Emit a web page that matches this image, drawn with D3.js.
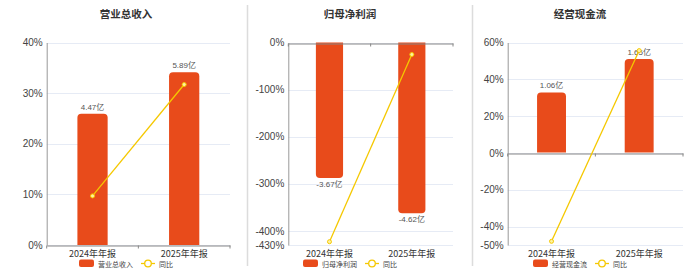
<!DOCTYPE html>
<html>
<head>
<meta charset="utf-8">
<script src="https://cdn.jsdelivr.net/npm/d3@7"></script>
<style>
  body { margin: 0; background: #fff; }
  svg { display: block; }
</style>
</head>
<body>
<script>
// data
var categories = ["2024年年报", "2025年年报"];
var titles = ["营业总收入", "归母净利润", "经营现金流"];
var barValues = [[4.47, 5.89], [-3.67, -4.62], [1.06, 1.65]];
var barLabels = [["4.47亿", "5.89亿"], ["-3.67亿", "-4.62亿"], ["1.06亿", "1.65亿"]];
var yoyValues = [[9.7, 31.7], [-423, -25.5], [-48, 55.6]];
var yoyTicks = [[0, 10, 20, 30, 40], [-430, -400, -300, -200, -100, 0], [-50, -40, -20, 0, 20, 40, 60]];
var yoyDomain = [[0, 40], [-430, 0], [-50, 60]];
var barDomain = [[0, 6.9], [-5.48, 0], [-1.63, 1.94]];

var W = 700, H = 272;
var barColor = "#E84B1B", lineColor = "#F5C800";
var font = "'Liberation Sans', 'Noto Sans CJK SC', sans-serif";

// panel layout
var panels = [
  {x0: 46.7, x1: 230, cx: 126},
  {x0: 288.3, x1: 453, cx: 350},
  {x0: 507.7, x1: 683, cx: 580}
];
var plotTop = 42.5, plotBottom = 245;

var svg = d3.select("body").append("svg").attr("width", W).attr("height", H);

// separators
[247.5, 472.5].forEach(function(x) {
  svg.append("line").attr("x1", x).attr("x2", x).attr("y1", 5).attr("y2", 266)
    .attr("stroke", "#dcdcdc").attr("stroke-width", 1.5);
});

function barPath(x, w, y0, y1, r) {
  // rounded at the far end (y1)
  var dir = y1 < y0 ? 1 : -1;
  var h = Math.abs(y1 - y0);
  r = Math.min(r, h / 2, w / 2);
  return "M" + x + "," + y0 +
    "L" + x + "," + (y1 + dir * r) +
    "Q" + x + "," + y1 + " " + (x + r) + "," + y1 +
    "L" + (x + w - r) + "," + y1 +
    "Q" + (x + w) + "," + y1 + " " + (x + w) + "," + (y1 + dir * r) +
    "L" + (x + w) + "," + y0 + "Z";
}

panels.forEach(function(p, i) {
  var g = svg.append("g");
  var x = d3.scaleBand().domain(categories).range([p.x0, p.x1]);
  var y = d3.scaleLinear().domain(yoyDomain[i]).range([plotBottom, plotTop]);
  var yb = d3.scaleLinear().domain(barDomain[i]).range([plotBottom, plotTop]);

  // title
  g.append("text").attr("x", p.cx).attr("y", 18).attr("text-anchor", "middle")
    .attr("font-family", "'Noto Sans CJK SC', sans-serif").attr("font-weight", "bold")
    .attr("font-size", 10.5).attr("fill", "#333").text(titles[i]);

  // grid
  g.selectAll(".grid").data(yoyTicks[i]).enter().append("line")
    .attr("x1", p.x0).attr("x2", p.x1)
    .attr("y1", function(d) { return Math.round(y(d)) + 0.5; })
    .attr("y2", function(d) { return Math.round(y(d)) + 0.5; })
    .attr("stroke", "#e6ebf5").attr("stroke-width", 1);

  // y axis
  var ya = g.append("g").attr("transform", "translate(" + p.x0 + ",0)")
    .call(d3.axisLeft(y).tickValues(yoyTicks[i]).tickSize(0).tickPadding(4)
      .tickFormat(function(d) { return d + "%"; }));
  ya.select(".domain").attr("stroke", "#999");
  ya.selectAll("text").attr("font-family", font).attr("font-size", 10).attr("fill", "#444");

  // bars
  var zero = yb(0);
  g.selectAll(".bar").data(barValues[i]).enter().append("path")
    .attr("fill", barColor)
    .attr("d", function(d, j) {
      var bw = x.bandwidth() * 0.33;
      var bx = x(categories[j]) + (x.bandwidth() - bw) / 2;
      return barPath(bx, bw, zero, yb(d), 4);
    });

  // bar labels
  g.selectAll(".lbl").data(barValues[i]).enter().append("text")
    .attr("x", function(d, j) { return x(categories[j]) + x.bandwidth() / 2; })
    .attr("y", function(d) { return d >= 0 ? yb(d) - 4 : yb(d) + 9; })
    .attr("text-anchor", "middle").attr("font-family", font).attr("font-size", 8)
    .attr("fill", "#555")
    .text(function(d, j) { return barLabels[i][j]; });

  // x axis at zero
  var xa = g.append("g").attr("transform", "translate(0," + (Math.round(zero) + 0.5) + ")")
    .call(d3.axisBottom(x).tickSize(0).tickFormat(""));
  xa.select(".domain").attr("stroke", "#888").attr("stroke-width", 1.2);
  [p.x0, (p.x0 + p.x1) / 2, p.x1].forEach(function(tx) {
    xa.append("line").attr("x1", tx).attr("x2", tx).attr("y1", 0).attr("y2", 3).attr("stroke", "#888");
  });

  // category labels at bottom
  g.selectAll(".cat").data(categories).enter().append("text")
    .attr("x", function(d) { return x(d) + x.bandwidth() / 2; })
    .attr("y", 256.5).attr("text-anchor", "middle")
    .attr("font-family", "'Noto Sans CJK SC', sans-serif").attr("font-size", 9)
    .attr("fill", "#333").text(function(d) { return d; });

  // yoy line
  var line = d3.line()
    .x(function(d, j) { return x(categories[j]) + x.bandwidth() / 2; })
    .y(function(d) { return y(d); });
  g.append("path").attr("d", line(yoyValues[i])).attr("fill", "none")
    .attr("stroke", lineColor).attr("stroke-width", 1.3);
  g.selectAll(".pt").data(yoyValues[i]).enter().append("circle")
    .attr("cx", function(d, j) { return x(categories[j]) + x.bandwidth() / 2; })
    .attr("cy", function(d) { return y(d); })
    .attr("r", 2).attr("fill", "#fff3a0").attr("stroke", lineColor).attr("stroke-width", 1);

  // legend
  var lg = g.append("g");
  var t1 = lg.append("text").attr("y", 266.5).attr("font-family", "'Noto Sans CJK SC', sans-serif")
    .attr("font-size", 7).attr("fill", "#444").text(titles[i]);
  var t2 = lg.append("text").attr("y", 266.5).attr("font-family", "'Noto Sans CJK SC', sans-serif")
    .attr("font-size", 7).attr("fill", "#444").text("同比");
  var w1 = t1.node().getComputedTextLength(), w2 = t2.node().getComputedTextLength();
  var total = 15 + 4 + w1 + 8 + 14 + 4 + w2;
  var lx = p.cx - total / 2;
  lg.append("rect").attr("x", lx).attr("y", 259.5).attr("width", 15).attr("height", 7.5)
    .attr("rx", 2).attr("fill", barColor);
  t1.attr("x", lx + 19);
  var l2 = lx + 19 + w1 + 8;
  lg.append("line").attr("x1", l2).attr("x2", l2 + 14).attr("y1", 263.5).attr("y2", 263.5)
    .attr("stroke", lineColor).attr("stroke-width", 1.3);
  lg.append("circle").attr("cx", l2 + 7).attr("cy", 263.5).attr("r", 3.3)
    .attr("fill", "#fff").attr("stroke", lineColor).attr("stroke-width", 1.3);
  t2.attr("x", l2 + 18);
});
</script>
</body>
</html>
